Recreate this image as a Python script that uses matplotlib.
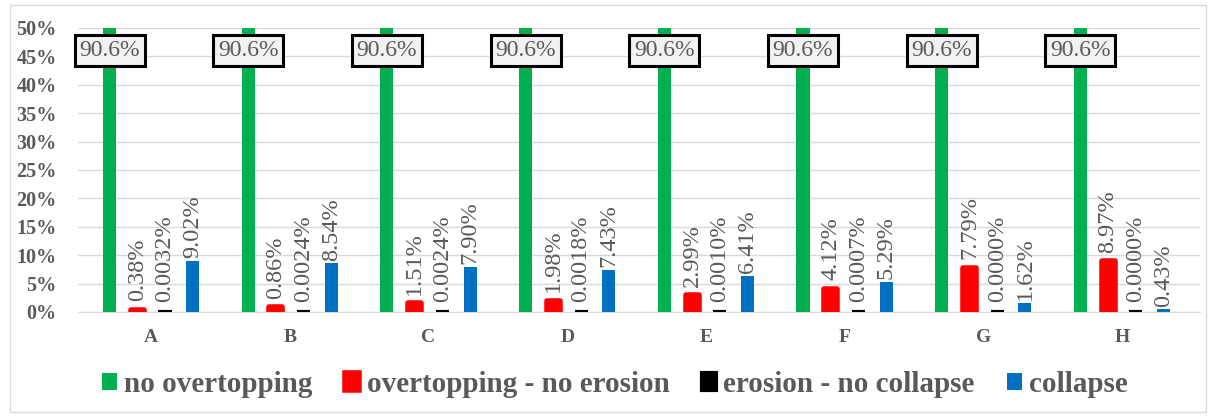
import numpy as np
import matplotlib.pyplot as plt
from matplotlib.patches import Rectangle
from matplotlib.ticker import PercentFormatter

categories = ['A', 'B', 'C', 'D', 'E', 'F', 'G', 'H']
no_overtopping = [90.6, 90.6, 90.6, 90.6, 90.6, 90.6, 90.6, 90.6]
overtop_no_erosion = [0.38, 0.86, 1.51, 1.98, 2.99, 4.12, 7.79, 8.97]
erosion_no_collapse = [0.0032, 0.0024, 0.0024, 0.0018, 0.0010, 0.0007, 0.0000, 0.0000]
collapse = [9.02, 8.54, 7.90, 7.43, 6.41, 5.29, 1.62, 0.43]
series_names = ['no overtopping', 'overtopping - no erosion', 'erosion - no collapse', 'collapse']

gray = '#595959'
serif = 'Liberation Serif'
plt.rcParams['font.family'] = serif

fig = plt.figure(figsize=(12.13, 4.17), dpi=100)
ax = fig.add_axes([0.064, 0.252, 0.925, 0.681])

x = np.arange(len(categories))
w = 0.094
offs = [-0.30, -0.10, 0.10, 0.30]
cols = ['#00b050', '#ff0000', '#000000', '#0070c0']
data = [no_overtopping, overtop_no_erosion, erosion_no_collapse, collapse]
edge_lw = [0, 4, 3, 0]
label_pad = [0, 6, 7, 2]

handles = []
for i in range(4):
    b = ax.bar(x + offs[i], data[i], w, color=cols[i], label=series_names[i],
               edgecolor=cols[i], linewidth=edge_lw[i], joinstyle='round', zorder=3)
    handles.append(b)
    if i == 0:
        for xi, v in zip(x, data[i]):
            ax.text(xi + offs[i], 46.0, f'{v:.1f}%', ha='center', va='center',
                    fontsize=17, color=gray, zorder=5, family=serif,
                    bbox=dict(boxstyle='square,pad=0.2', fc='#f2f2f2', ec='black', lw=2.2))
    else:
        fmt = '{:.4f}%' if i == 2 else '{:.2f}%'
        labels = [fmt.format(v) for v in data[i]]
        ax.bar_label(b, labels=labels, rotation=90, padding=label_pad[i], fontsize=17.5,
                     color=gray, zorder=5, family=serif)

ax.set_ylim(0, 50)
ax.set_xlim(-0.53, 7.56)
ax.set_yticks(np.arange(0, 51, 5))
ax.yaxis.set_major_formatter(PercentFormatter(decimals=0))
ax.set_xticks(x)
ax.set_xticklabels(categories)
ax.tick_params(axis='y', length=0, labelsize=14.5, labelcolor=gray, pad=15)
ax.tick_params(axis='x', length=0, labelsize=14, labelcolor=gray, pad=12)
for lab in ax.get_yticklabels() + ax.get_xticklabels():
    lab.set_fontweight('bold')
    lab.set_family(serif)
ax.grid(axis='y', color='#d9d9d9', lw=1, zorder=0)
for s in ['top', 'right', 'left']:
    ax.spines[s].set_visible(False)
ax.spines['bottom'].set_color('#d9d9d9')

leg = fig.legend(handles=handles, loc='center', bbox_to_anchor=(0.507, 0.078), ncol=4,
                 frameon=False, prop={'family': serif, 'weight': 'bold', 'size': 21},
                 handlelength=0.5, handleheight=0.55, handletextpad=0.25, columnspacing=1.1)
for t in leg.get_texts():
    t.set_color(gray)

fig.patches.append(Rectangle((0.008, 0.012), 0.986, 0.976, transform=fig.transFigure,
                             fill=False, ec='#d9d9d9', lw=1))

fig.savefig('out.png', dpi=100)
